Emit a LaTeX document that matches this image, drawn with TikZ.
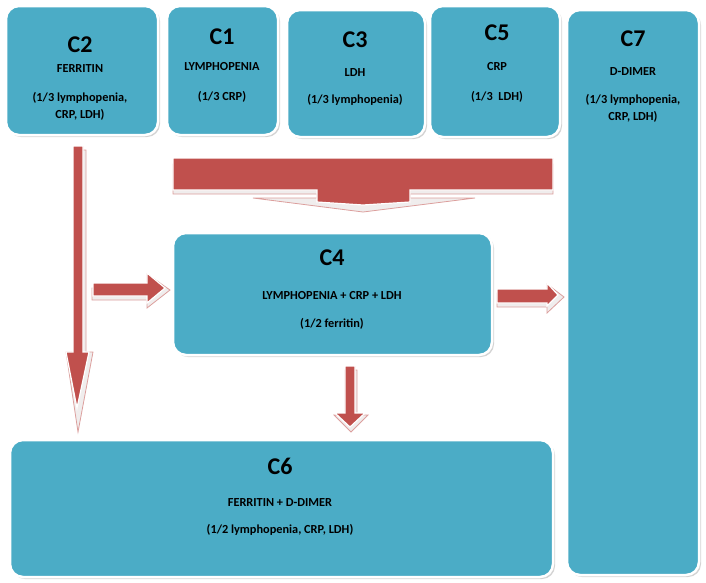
\documentclass[tikz,border=0pt]{standalone}
\usepackage{fontspec}
\setmainfont{Carlito}
\usetikzlibrary{shadows}
\definecolor{boxblue}{HTML}{4BACC6}
\definecolor{arrowred}{HTML}{C0504D}
\definecolor{paleshade}{HTML}{F0EDED}
\tikzset{
  cbox/.style={draw=white, line width=2.5pt, fill=boxblue, rounded corners=13pt,
    drop shadow={opacity=0.35, shadow xshift=2pt, shadow yshift=-2pt}},
  blk/.style={fill=arrowred, draw=white, line width=1.2pt},
  blkshade/.style={fill=paleshade, draw=arrowred!55, line width=0.8pt},
  ttl/.style={font=\bfseries\fontsize{24}{26}\selectfont, inner sep=0pt},
  txt/.style={font=\bfseries\fontsize{12.3}{17}\selectfont, inner sep=0pt, align=center},
}
\begin{document}
\begin{tikzpicture}[x=1pt,y=-1pt]
\useasboundingbox (0,0) rectangle (706,582);
% boxes
\draw[cbox] (6,6) rectangle (158,135);
\draw[cbox] (167,6) rectangle (278,135);
\draw[cbox] (287,10) rectangle (425,137);
\draw[cbox] (430,6) rectangle (560,137);
\draw[cbox] (567,10) rectangle (699,575);
\draw[cbox] (173,233) rectangle (492,355);
\draw[cbox] (10,440) rectangle (553,577);
% texts
\node[ttl] (t2) at (80,45) {C2};
\node[txt] (b2) at (80,69) {FERRITIN};
\node[txt] (c2) at (80,106) {(1/3 lymphopenia,\\CRP, LDH)};
\node[ttl] (t1) at (222,37) {C1};
\node[txt] (b1) at (222,67) {LYMPHOPENIA};
\node[txt] (c1) at (222,97) {(1/3 CRP)};
\node[ttl] (t3) at (355,40) {C3};
\node[txt] (b3) at (355,73) {LDH};
\node[txt] (c3) at (355,100) {(1/3 lymphopenia)};
\node[ttl] (t5) at (497,33) {C5};
\node[txt] (b5) at (497,67) {CRP};
\node[txt] (c5) at (497,97) {(1/3\ \ LDH)};
\node[ttl] (t7) at (633,39) {C7};
\node[txt] (b7) at (633,72) {D-DIMER};
\node[txt] (c7) at (633,108) {(1/3 lymphopenia,\\CRP, LDH)};
\node[ttl] (t4) at (332,258) {C4};
\node[txt] (b4) at (332,296) {LYMPHOPENIA + CRP + LDH};
\node[txt] (c4) at (332,324) {(1/2 ferritin)};
\node[ttl] (t6) at (280,466) {C6};
\node[txt] (b6) at (280,502) {FERRITIN + D-DIMER};
\node[txt] (c6) at (280,530) {(1/2 lymphopenia, CRP, LDH)};
% block arrows: pale reflected shade, then red arrow
\draw[blkshade] (173,164) -- (553,164) -- (553,194) -- (410,194) -- (410,198) -- (475,198)
  -- (363,212) -- (253,198) -- (317,198) -- (317,194) -- (173,194) -- cycle;
\draw[blk] (173,158) -- (553,158) -- (553,190) -- (410,190) -- (410,202) -- (363,205)
  -- (317,202) -- (317,190) -- (173,190) -- cycle;
% C2 down to C6
\draw[blkshade] (75,150) -- (86,150) -- (86,352) -- (93,352) -- (78,432) -- (66,352) -- (75,352) -- cycle;
\draw[blk] (73,146) -- (83,146) -- (83,352) -- (89,352) -- (77,408) -- (66,352) -- (73,352) -- cycle;
% into C4
\draw[blkshade] (92,288) -- (147,288) -- (147,274) -- (170,290) -- (147,308) -- (147,300) -- (92,300) -- cycle;
\draw[blk] (93,283) -- (147,283) -- (147,273) -- (165,288) -- (147,303) -- (147,296) -- (93,296) -- cycle;
% C4 to C7
\draw[blkshade] (497,293) -- (547,293) -- (547,284) -- (564,297) -- (547,313) -- (547,307) -- (497,307) -- cycle;
\draw[blk] (497,289) -- (547,289) -- (547,283) -- (558,295) -- (547,306) -- (547,303) -- (497,303) -- cycle;
% C4 down to C6
\draw[blkshade] (345,370) -- (357,370) -- (357,415) -- (368,415) -- (351,432) -- (334,415) -- (345,415) -- cycle;
\draw[blk] (345,366) -- (355,366) -- (355,413) -- (365,413) -- (350,427) -- (335,413) -- (345,413) -- cycle;
\end{tikzpicture}
\end{document}
